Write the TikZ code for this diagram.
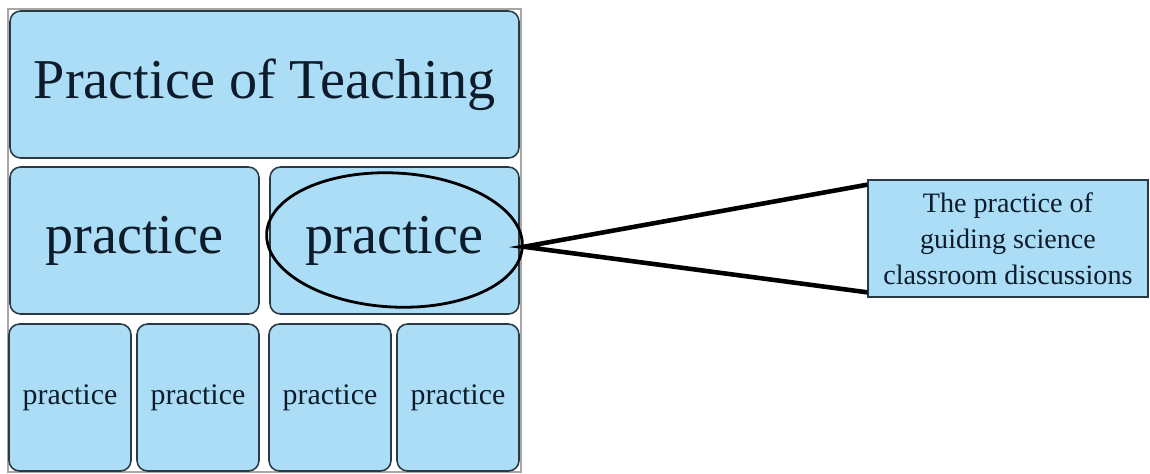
\documentclass[tikz,border=0pt]{standalone}
\usepackage{fontspec}
\setmainfont{Liberation Serif}
\usetikzlibrary{shapes.geometric}
\definecolor{tilefill}{HTML}{ABDDF7}
\definecolor{tileline}{HTML}{2B3A42}
\definecolor{inktext}{HTML}{0D1B2A}

\begin{document}
\begin{tikzpicture}
[
    tile/.style = {draw = tileline, fill = tilefill, line width = 0.9pt, rounded corners = 6pt,
                   text = inktext, inner sep = 0pt},
    big/.style = {font = \fontsize{32}{36}\selectfont},
    small/.style = {font = \fontsize{17}{20}\selectfont},
    callout/.style = {draw = tileline, fill = tilefill, line width = 0.7pt, text = inktext,
                      align = center, font = \fontsize{16}{20.5}\selectfont}
]
\useasboundingbox (0,0) rectangle (23,-9.46);

% outer frame
\draw[gray!70, line width = 0.6pt] (0.16,-0.18) rectangle (10.42,-9.44);

% top row
\node[tile, big, minimum width = 10.18cm, minimum height = 2.94cm] (teach) at (5.29,-1.69) {Practice of Teaching};

% middle row
\node[tile, big, minimum width = 4.98cm, minimum height = 2.94cm] (midl) at (2.69,-4.81) {practice};
\node[tile, big, minimum width = 4.98cm, minimum height = 2.94cm] (midr) at (7.89,-4.81) {practice};
\node[ellipse, draw, line width = 1.6pt, rotate = -3, inner sep = 0pt,
      minimum width = 5.12cm, minimum height = 2.68cm] (focus) at (7.89,-4.80) {};

% bottom row
\foreach \name/\x in {pa/1.40, pb/3.96, pc/6.60, pd/9.16}
    \node[tile, small, minimum width = 2.44cm, minimum height = 2.94cm] (\name) at (\x,-7.95) {practice};

% callout
\node[callout, minimum width = 5.6cm, minimum height = 2.34cm] (note) at (20.16,-4.77)
    {The practice of\\guiding science\\classroom discussions};

\draw[line width = 2.6pt] ([yshift = -3pt]note.north west) -- (focus.east) -- ([yshift = 3pt]note.south west);
\end{tikzpicture}
\end{document}
